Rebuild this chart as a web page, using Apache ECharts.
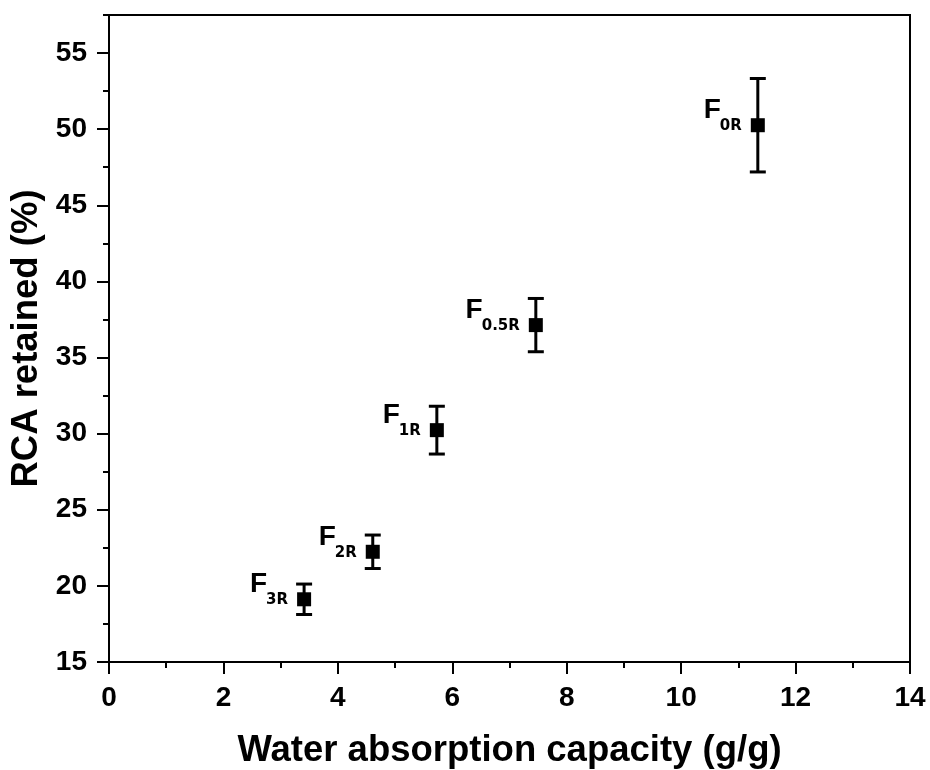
<!DOCTYPE html>
<html><head><meta charset="utf-8">
<script src="https://cdn.jsdelivr.net/npm/echarts@6/dist/echarts.min.js"></script>
<style>html,body{margin:0;padding:0;background:#fff}#c{width:930px;height:770px}</style>
</head><body><div id="c"></div>
<script>
// ---- data ----
const sampleMain = ['F', 'F', 'F', 'F', 'F'];
const sampleSub = ['0R', '0.5R', '1R', '2R', '3R'];
const absorption = [11.34, 7.46, 5.73, 4.61, 3.41];
const retained = [50.26, 37.13, 30.23, 22.24, 19.12];
const retainedErr = [3.07, 1.75, 1.57, 1.10, 1.00];
const yTicks = [15, 20, 25, 30, 35, 40, 45, 50, 55];
const yMinorTicks = [17.5, 22.5, 27.5, 32.5, 37.5, 42.5, 47.5, 52.5, 57.5];

// ---- styles ----
const FONT = '"Liberation Sans", Arial, sans-serif';
const SUBFONT = '"DejaVu Sans", Verdana, sans-serif';
const SUB_SIZE = 15;
const measureCtx = document.createElement('canvas').getContext('2d');
function textWidth(t, size, fam) {
  measureCtx.font = 'bold ' + size + 'px ' + fam;
  return measureCtx.measureText(t).width;
}

const pointData = absorption.map((x, i) => [x, retained[i]]);
const errData = absorption.map((x, i) => [x, retained[i] - retainedErr[i], retained[i] + retainedErr[i]]);
const labelData = absorption.map((x, i) => [x, retained[i], i]);

const chart = echarts.init(document.getElementById('c'), null, { renderer: 'canvas' });
const option = {
  backgroundColor: '#fff',
  animation: false,
  grid: {
    left: 109, right: 20, top: 15, bottom: 108,
    show: true, borderColor: '#000', borderWidth: 2, backgroundColor: 'transparent',
    outerBoundsMode: 'none'
  },
  xAxis: {
    type: 'value', min: 0, max: 14, interval: 2,
    name: 'Water absorption capacity (g/g)', nameLocation: 'middle', nameGap: 70,
    nameTextStyle: { fontFamily: FONT, fontSize: 36.5, fontWeight: 'bold', color: '#000' },
    axisLine: { show: true, onZero: false, lineStyle: { color: '#000', width: 2 } },
    axisTick: { show: true, inside: false, length: 12, lineStyle: { color: '#000', width: 2 } },
    minorTick: { show: true, splitNumber: 2, length: 6, lineStyle: { color: '#000', width: 2 } },
    axisLabel: { margin: 22, fontFamily: FONT, fontSize: 28, fontWeight: 'bold', color: '#000' },
    splitLine: { show: false }
  },
  yAxis: [{
    type: 'value', min: 15, max: 57.5, interval: 5, position: 'left',
    name: 'RCA retained (%)', nameLocation: 'middle', nameGap: 57,
    nameTextStyle: { fontFamily: FONT, fontSize: 36.5, fontWeight: 'bold', color: '#000' },
    axisLine: { show: true, onZero: false, lineStyle: { color: '#000', width: 2 } },
    axisTick: { show: true, inside: false, length: 12, customValues: yTicks, lineStyle: { color: '#000', width: 2 } },
    axisLabel: { margin: 22, customValues: yTicks, fontFamily: FONT, fontSize: 28, fontWeight: 'bold', color: '#000' },
    splitLine: { show: false }
  }, {
    type: 'value', min: 15, max: 57.5, interval: 2.5, position: 'left', offset: 0,
    axisLine: { show: false, onZero: false },
    axisTick: { show: true, inside: false, length: 6, customValues: yMinorTicks, lineStyle: { color: '#000', width: 2 } },
    axisLabel: { show: false },
    splitLine: { show: false }
  }],
  series: [
    {
      type: 'custom', name: 'err',
      data: errData,
      encode: { x: 0, y: [1, 2] },
      renderItem: function (params, api) {
        const x = api.value(0);
        const lo = api.coord([x, api.value(1)]);
        const hi = api.coord([x, api.value(2)]);
        const cap = 8;
        const st = { stroke: '#000', lineWidth: 3 };
        return {
          type: 'group',
          children: [
            { type: 'line', shape: { x1: lo[0], y1: lo[1], x2: hi[0], y2: hi[1] }, style: st },
            { type: 'line', shape: { x1: lo[0] - cap, y1: lo[1], x2: lo[0] + cap, y2: lo[1] }, style: st },
            { type: 'line', shape: { x1: hi[0] - cap, y1: hi[1], x2: hi[0] + cap, y2: hi[1] }, style: st }
          ]
        };
      },
      z: 2
    },
    {
      type: 'scatter', name: 'points',
      data: pointData,
      symbol: 'rect', symbolSize: 14,
      itemStyle: { color: '#000', opacity: 1 },
      z: 3
    },
    {
      type: 'custom', name: 'labels',
      data: labelData,
      encode: { x: 0, y: 1 },
      renderItem: function (params, api) {
        const p = api.coord([api.value(0), api.value(1)]);
        const idx = api.value(2);
        const sub = sampleSub[idx];
        const subRight = p[0] - 16;
        const subW = textWidth(sub, SUB_SIZE, SUBFONT);
        return {
          type: 'group',
          children: [
            { type: 'text', x: subRight, y: p[1] + 1,
              style: { text: sub, font: 'bold ' + SUB_SIZE + 'px ' + SUBFONT, fill: '#000', align: 'right', verticalAlign: 'middle' } },
            { type: 'text', x: subRight - subW + 1, y: p[1] - 15,
              style: { text: sampleMain[idx], font: 'bold 28px ' + FONT, fill: '#000', align: 'right', verticalAlign: 'middle' } }
          ]
        };
      },
      z: 4
    }
  ]
};
chart.setOption(option);
</script>
</body></html>
